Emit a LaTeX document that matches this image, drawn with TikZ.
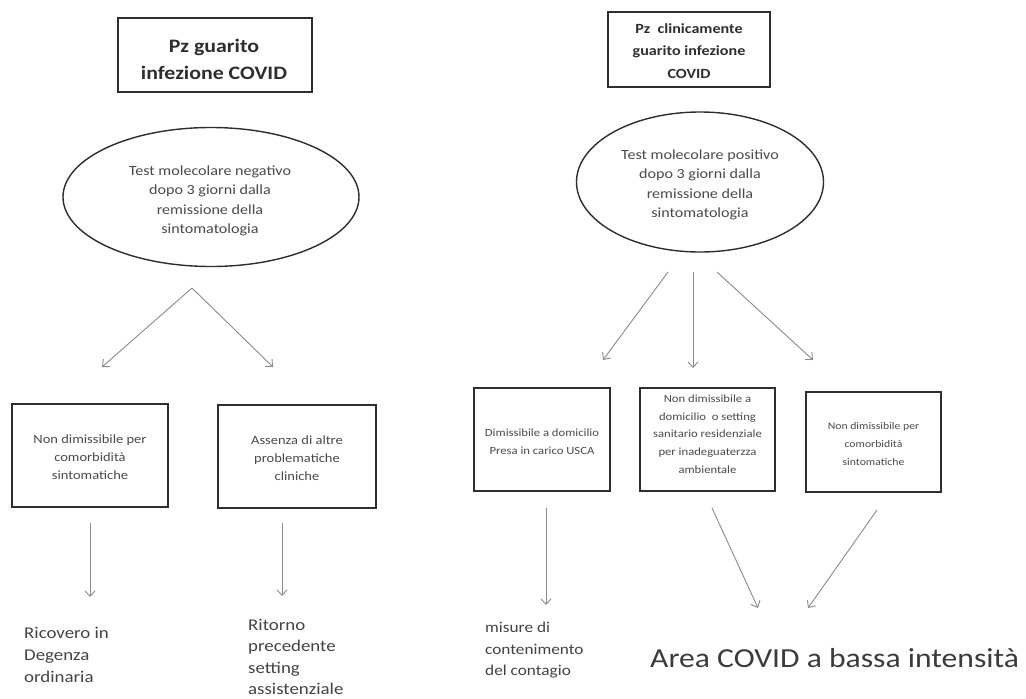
\documentclass[tikz,border=0pt]{standalone}
\usepackage{fontspec}
\setmainfont{Carlito}[FakeStretch=1.15]
\usetikzlibrary{arrows.meta,shapes.geometric}
\definecolor{ink}{HTML}{2E2E2E}
\definecolor{txt}{HTML}{4A4A4A}
\definecolor{arr}{HTML}{8A8A8A}
\newcommand{\fs}[2]{\fontsize{#1}{#2}\selectfont}
\tikzset{
  box/.style={draw=ink, line width=1.5pt, inner sep=0pt},
  oval/.style={draw=ink, line width=1.4pt, ellipse, inner sep=0pt},
  lbl/.style={text=txt, align=center, inner sep=0pt},
  btxt/.style={text=txt!90!black, align=left, inner sep=0pt},
  conn/.style={draw=arr, line width=0.9pt, -{Straight Barb[length=5.5pt,width=10pt]}}
}
\begin{document}
\begin{tikzpicture}[x=1pt,y=-1pt]
\useasboundingbox[fill=white] (0,0) rectangle (1026,699);
% ---- left column
\node[box, minimum width=194pt, minimum height=74pt] (t1) at (215,55) {};
\node[lbl, text=ink, font=\bfseries\fs{19}{27}] (t1t) at (214,59) {Pz guarito\\infezione COVID};
\node[oval, minimum width=296pt, minimum height=139pt] (e1) at (211,197) {};
\node[lbl, font=\fs{14}{19.5}] (e1t) at (210,201) {Test molecolare negativo\\dopo 3 giorni dalla\\remissione della\\sintomatologia};
\node[box, minimum width=156pt, minimum height=103pt] (b1) at (90,455.5) {};
\node[lbl, font=\fs{12.6}{18}] (b1t) at (90,457) {Non dimissibile per\\comorbidità\\sintomatiche};
\node[box, minimum width=158pt, minimum height=103pt] (b2) at (297,456.5) {};
\node[lbl, font=\fs{12.6}{18}] (b2t) at (297,458.5) {Assenza di altre\\problematiche\\cliniche};
\node[btxt, font=\fs{16.4}{22}, anchor=west] (r1) at (24,655) {Ricovero in\\Degenza\\ordinaria};
\node[btxt, font=\fs{16.4}{21.5}, anchor=west] (r2) at (248,657) {Ritorno\\precedente\\setting\\assistenziale};
% ---- right column
\node[box, minimum width=162pt, minimum height=75pt] (t2) at (689,49.5) {};
\node[lbl, text=ink, font=\bfseries\fs{14}{22.5}] (t2t) at (689,51) {Pz\ \ clinicamente\\guarito infezione\\COVID};
\node[oval, minimum width=247pt, minimum height=140pt] (e2) at (700,182) {};
\node[lbl, font=\fs{14}{19.5}] (e2t) at (700,185) {Test molecolare positivo\\dopo 3 giorni dalla\\remissione della\\sintomatologia};
\node[box, minimum width=136pt, minimum height=103pt] (bA) at (542,439.5) {};
\node[lbl, font=\fs{11}{17.5}] (bAt) at (542,441.5) {Dimissibile a domicilio\\Presa in carico USCA};
\node[box, minimum width=135pt, minimum height=103pt] (bB) at (707.5,439.5) {};
\node[lbl, font=\fs{11}{17.7}] (bBt) at (707.5,434) {Non dimissibile a\\domicilio\ \ o setting\\sanitario residenziale\\per inadeguaterzza\\ambientale};
\node[box, minimum width=135pt, minimum height=100pt] (bC) at (873.5,442) {};
\node[lbl, font=\fs{10.2}{18}] (bCt) at (873.5,444) {Non dimissibile per\\comorbidità\\sintomatiche};
\node[btxt, font=\fs{15}{21.5}, anchor=west] (m1) at (485,650.5) {misure di\\contenimento\\del contagio};
\node[text=txt!80!black, inner sep=0pt, anchor=base west, font=\fs{27.5}{30}] (area) at (650,667) {Area COVID a bassa intensità};
% ---- connector ends
\coordinate (p0) at (192,288);
\coordinate (p1) at (102,367);
\coordinate (p2) at (273,367);
\coordinate (d1s) at (90,523);  \coordinate (d1e) at (90,597);
\coordinate (d2s) at (282,523); \coordinate (d2e) at (282,596);
\coordinate (q1) at (668,272); \coordinate (q1e) at (603,360);
\coordinate (q2) at (693,272); \coordinate (q2e) at (693,368);
\coordinate (q3) at (717,272); \coordinate (q3e) at (813,360);
\coordinate (dAs) at (546,508); \coordinate (dAe) at (546,605);
\coordinate (dBs) at (712,508); \coordinate (dBe) at (758,608);
\coordinate (dCs) at (877,510); \coordinate (dCe) at (808,608);
% ---- connectors
\draw[conn] (p0) -- (p1);
\draw[conn] (p0) -- (p2);
\draw[conn] (d1s) -- (d1e);
\draw[conn] (d2s) -- (d2e);
\draw[conn] (q1) -- (q1e);
\draw[conn] (q2) -- (q2e);
\draw[conn] (q3) -- (q3e);
\draw[conn] (dAs) -- (dAe);
\draw[conn] (dBs) -- (dBe);
\draw[conn] (dCs) -- (dCe);
\end{tikzpicture}
\end{document}
